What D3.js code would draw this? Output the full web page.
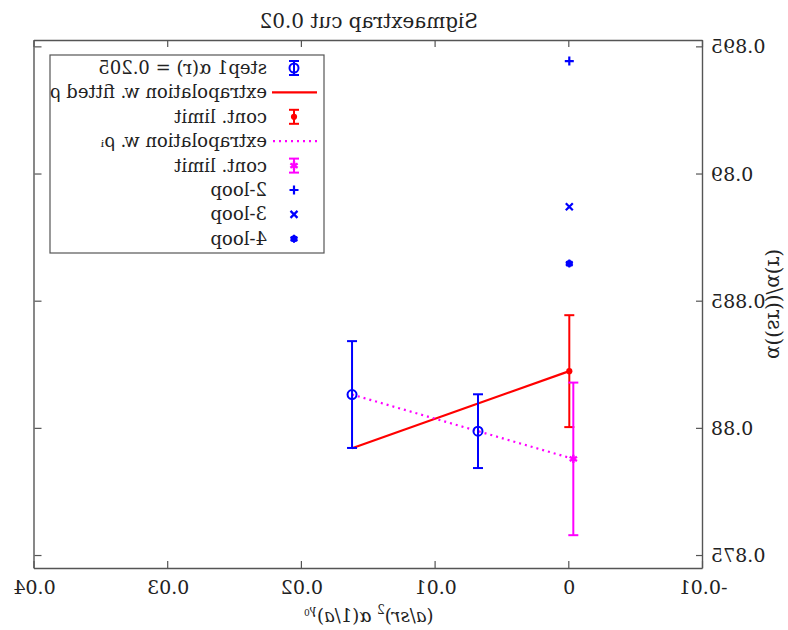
<!DOCTYPE html>
<html>
<head>
<meta charset="utf-8">
<script src="https://cdn.jsdelivr.net/npm/d3@7"></script>
<style>
  body { margin: 0; background: #fff; }
  svg text { font-family: "DejaVu Serif", "Liberation Serif", serif; fill: #222; }
</style>
</head>
<body>
<div id="chart"></div>
<script>
// step1 points, alpha(r) = 0.205
const stepX = [0.01625, 0.00683];
const stepY = [0.88131, 0.87987];
const stepErr = [0.0021, 0.00145];

// extrapolation w. fitted rho
const fitX = [0.01625, 0];
const fitY = [0.8792, 0.88223];
const fitLimit = { x: 0, y: 0.88223, err: 0.0022 };

// extrapolation w. rho_i
const rhoX = [0.01625, -0.0003];
const rhoY = [0.88131, 0.87878];
const rhoLimit = { x: -0.0003, y: 0.87878, err: 0.003 };

// perturbative loops at x = 0
const loopNames = ['2-loop', '3-loop', '4-loop'];
const loopY = [0.89442, 0.88869, 0.88646];

const xTicks = [-0.01, 0, 0.01, 0.02, 0.03, 0.04];
const xTickLabels = ['-0.01', '0', '0.01', '0.02', '0.03', '0.04'];
const yTicks = [0.875, 0.88, 0.885, 0.89, 0.895];
const yTickLabels = ['0.875', '0.88', '0.885', '0.89', '0.895'];

const W = 788, H = 630;
const pLeft = 85, pRight = 753.5, pTop = 40, pBottom = 568;

const blue = '#0000ff', red = '#ff0000', magenta = '#ff00ff';

const svg = d3.select('#chart').append('svg')
  .attr('width', W)
  .attr('height', H);

// the whole figure is mirrored left-right
const g = svg.append('g').attr('transform', `translate(${W},0) scale(-1,1)`);

const x = d3.scaleLinear().domain([-0.01, 0.04]).range([pLeft, pRight]);
const y = d3.scaleLinear().domain([0.87449, 0.89525]).range([pBottom, pTop]);

// frame with ticks on all sides pointing in
const tick = 7;
const axisCol = '#555';
g.append('g').attr('transform', `translate(0,${pBottom})`)
  .call(d3.axisBottom(x).tickValues(xTicks).tickSizeInner(-tick).tickSizeOuter(0).tickFormat(''));
g.append('g').attr('transform', `translate(0,${pTop})`)
  .call(d3.axisTop(x).tickValues(xTicks).tickSizeInner(-tick).tickSizeOuter(0).tickFormat(''));
g.append('g').attr('transform', `translate(${pLeft},0)`)
  .call(d3.axisLeft(y).tickValues(yTicks).tickSizeInner(-tick).tickSizeOuter(0).tickFormat(''));
g.append('g').attr('transform', `translate(${pRight},0)`)
  .call(d3.axisRight(y).tickValues(yTicks).tickSizeInner(-tick).tickSizeOuter(0).tickFormat(''));
g.selectAll('.domain').attr('stroke', axisCol).attr('stroke-width', 1.4);
g.selectAll('.tick line').attr('stroke', axisCol).attr('stroke-width', 1.2);

// tick labels
g.selectAll('.xlab').data(xTicks).enter().append('text')
  .attr('x', d => x(d)).attr('y', pBottom + 26)
  .attr('text-anchor', 'middle').attr('font-size', 19)
  .text((d, i) => xTickLabels[i]);
g.selectAll('.ylab').data(yTicks).enter().append('text')
  .attr('x', pLeft - 8).attr('y', d => y(d) + 7)
  .attr('text-anchor', 'end').attr('font-size', 19)
  .text((d, i) => yTickLabels[i]);

// title
g.append('text').attr('x', (pLeft + pRight) / 2).attr('y', 28)
  .attr('text-anchor', 'middle').attr('font-size', 20)
  .text('Sigmaextrap cut 0.02');

// x label: (a/sr)^2 α(1/a)^γ0
const xl = g.append('text').attr('x', (pLeft + pRight) / 2).attr('y', 622)
  .attr('text-anchor', 'middle').attr('font-size', 18);
xl.append('tspan').text('(');
xl.append('tspan').attr('font-style', 'italic').text('a');
xl.append('tspan').text('/');
xl.append('tspan').attr('font-style', 'italic').text('sr');
xl.append('tspan').text(')');
xl.append('tspan').attr('font-size', 12).attr('dy', -8).text('2');
xl.append('tspan').attr('dy', 8).attr('font-style', 'italic').text(' α');
xl.append('tspan').text('(1/');
xl.append('tspan').attr('font-style', 'italic').text('a');
xl.append('tspan').text(')');
xl.append('tspan').attr('font-size', 12).attr('dy', -8).attr('font-style', 'italic').text('γ');
xl.append('tspan').attr('font-size', 9).attr('dy', 2).text('0');

// y label
g.append('text')
  .attr('transform', `translate(20,${(pTop + pBottom) / 2}) rotate(-90)`)
  .attr('text-anchor', 'middle').attr('font-size', 20)
  .text('α((sr))/α(r)');

const plot = g.append('g');

function errBar(sel, cx, cy, err, col) {
  const cap = 5;
  sel.append('line').attr('x1', x(cx)).attr('x2', x(cx))
    .attr('y1', y(cy - err)).attr('y2', y(cy + err))
    .attr('stroke', col).attr('stroke-width', 2);
  [cy - err, cy + err].forEach(v => {
    sel.append('line').attr('x1', x(cx) - cap).attr('x2', x(cx) + cap)
      .attr('y1', y(v)).attr('y2', y(v))
      .attr('stroke', col).attr('stroke-width', 2);
  });
}

const line = d3.line().x(d => x(d[0])).y(d => y(d[1]));

// fitted rho line
plot.append('path').datum(d3.zip(fitX, fitY)).attr('d', line)
  .attr('fill', 'none').attr('stroke', red).attr('stroke-width', 2.2);
// rho_i dotted line
plot.append('path').datum(d3.zip(rhoX, rhoY)).attr('d', line)
  .attr('fill', 'none').attr('stroke', magenta).attr('stroke-width', 2.2)
  .attr('stroke-dasharray', '2,4');

// step1 points
stepX.forEach((v, i) => {
  errBar(plot, v, stepY[i], stepErr[i], blue);
  plot.append('circle').attr('cx', x(v)).attr('cy', y(stepY[i])).attr('r', 4.5)
    .attr('fill', 'none').attr('stroke', blue).attr('stroke-width', 2);
});

// continuum limits
errBar(plot, fitLimit.x, fitLimit.y, fitLimit.err, red);
plot.append('path').attr('transform', `translate(${x(fitLimit.x)},${y(fitLimit.y)})`)
  .attr('d', d3.symbol(d3.symbolCircle, 30)).attr('fill', red);
errBar(plot, rhoLimit.x, rhoLimit.y, rhoLimit.err, magenta);
plot.append('path').attr('transform', `translate(${x(rhoLimit.x)},${y(rhoLimit.y)})`)
  .attr('d', d3.symbol(d3.symbolAsterisk, 50)).attr('stroke', magenta).attr('stroke-width', 2.5).attr('fill', 'none');

// loop markers
function loopMark(sel, cx, cy, i) {
  if (i === 0) {
    sel.append('path').attr('d', `M${cx - 4.5},${cy}H${cx + 4.5}M${cx},${cy - 4.5}V${cy + 4.5}`)
      .attr('stroke', blue).attr('stroke-width', 2.2);
  } else if (i === 1) {
    sel.append('path').attr('d', `M${cx - 3.5},${cy - 3.5}L${cx + 3.5},${cy + 3.5}M${cx - 3.5},${cy + 3.5}L${cx + 3.5},${cy - 3.5}`)
      .attr('stroke', blue).attr('stroke-width', 2.2);
  } else {
    sel.append('circle').attr('cx', cx).attr('cy', cy).attr('r', 3.5).attr('fill', blue);
    sel.append('path').attr('transform', `translate(${cx},${cy})`)
      .attr('d', d3.symbol(d3.symbolAsterisk, 45)).attr('stroke', blue).attr('stroke-width', 2).attr('fill', 'none');
  }
}
loopY.forEach((v, i) => loopMark(plot, x(0), y(v), i));

// legend
const lg = g.append('g');
lg.append('rect').attr('x', 464).attr('y', 55).attr('width', 274).attr('height', 198)
  .attr('fill', '#fff').attr('stroke', axisCol).attr('stroke-width', 1.2);
const rowY = i => 68 + i * 24.4;
const symX = 494, txtX = 521;
const legendLabels = ['step1 α(r) = 0.205', 'extrapolation w. fitted ρ', 'cont. limit',
  'extrapolation w. ρᵢ', 'cont. limit'].concat(loopNames);
legendLabels.forEach((t, i) => {
  lg.append('text').attr('x', txtX).attr('y', rowY(i) + 6).attr('font-size', 18).text(t);
});
// row symbols
function legErr(i, col) {
  const cy = rowY(i);
  lg.append('line').attr('x1', symX).attr('x2', symX).attr('y1', cy - 7).attr('y2', cy + 7)
    .attr('stroke', col).attr('stroke-width', 2);
  [cy - 7, cy + 7].forEach(v => lg.append('line').attr('x1', symX - 5).attr('x2', symX + 5)
    .attr('y1', v).attr('y2', v).attr('stroke', col).attr('stroke-width', 2));
}
legErr(0, blue);
lg.append('circle').attr('cx', symX).attr('cy', rowY(0)).attr('r', 4.5)
  .attr('fill', 'none').attr('stroke', blue).attr('stroke-width', 2);
lg.append('line').attr('x1', 471).attr('x2', 516).attr('y1', rowY(1)).attr('y2', rowY(1))
  .attr('stroke', red).attr('stroke-width', 2.2);
legErr(2, red);
lg.append('path').attr('transform', `translate(${symX},${rowY(2)})`)
  .attr('d', d3.symbol(d3.symbolCircle, 30)).attr('fill', red);
lg.append('line').attr('x1', 471).attr('x2', 516).attr('y1', rowY(3)).attr('y2', rowY(3))
  .attr('stroke', magenta).attr('stroke-width', 2.2).attr('stroke-dasharray', '2,4');
legErr(4, magenta);
lg.append('path').attr('transform', `translate(${symX},${rowY(4)})`)
  .attr('d', d3.symbol(d3.symbolAsterisk, 50)).attr('stroke', magenta).attr('stroke-width', 2.5).attr('fill', 'none');
loopNames.forEach((n, i) => loopMark(lg, symX, rowY(5 + i), i));
</script>
</body>
</html>
